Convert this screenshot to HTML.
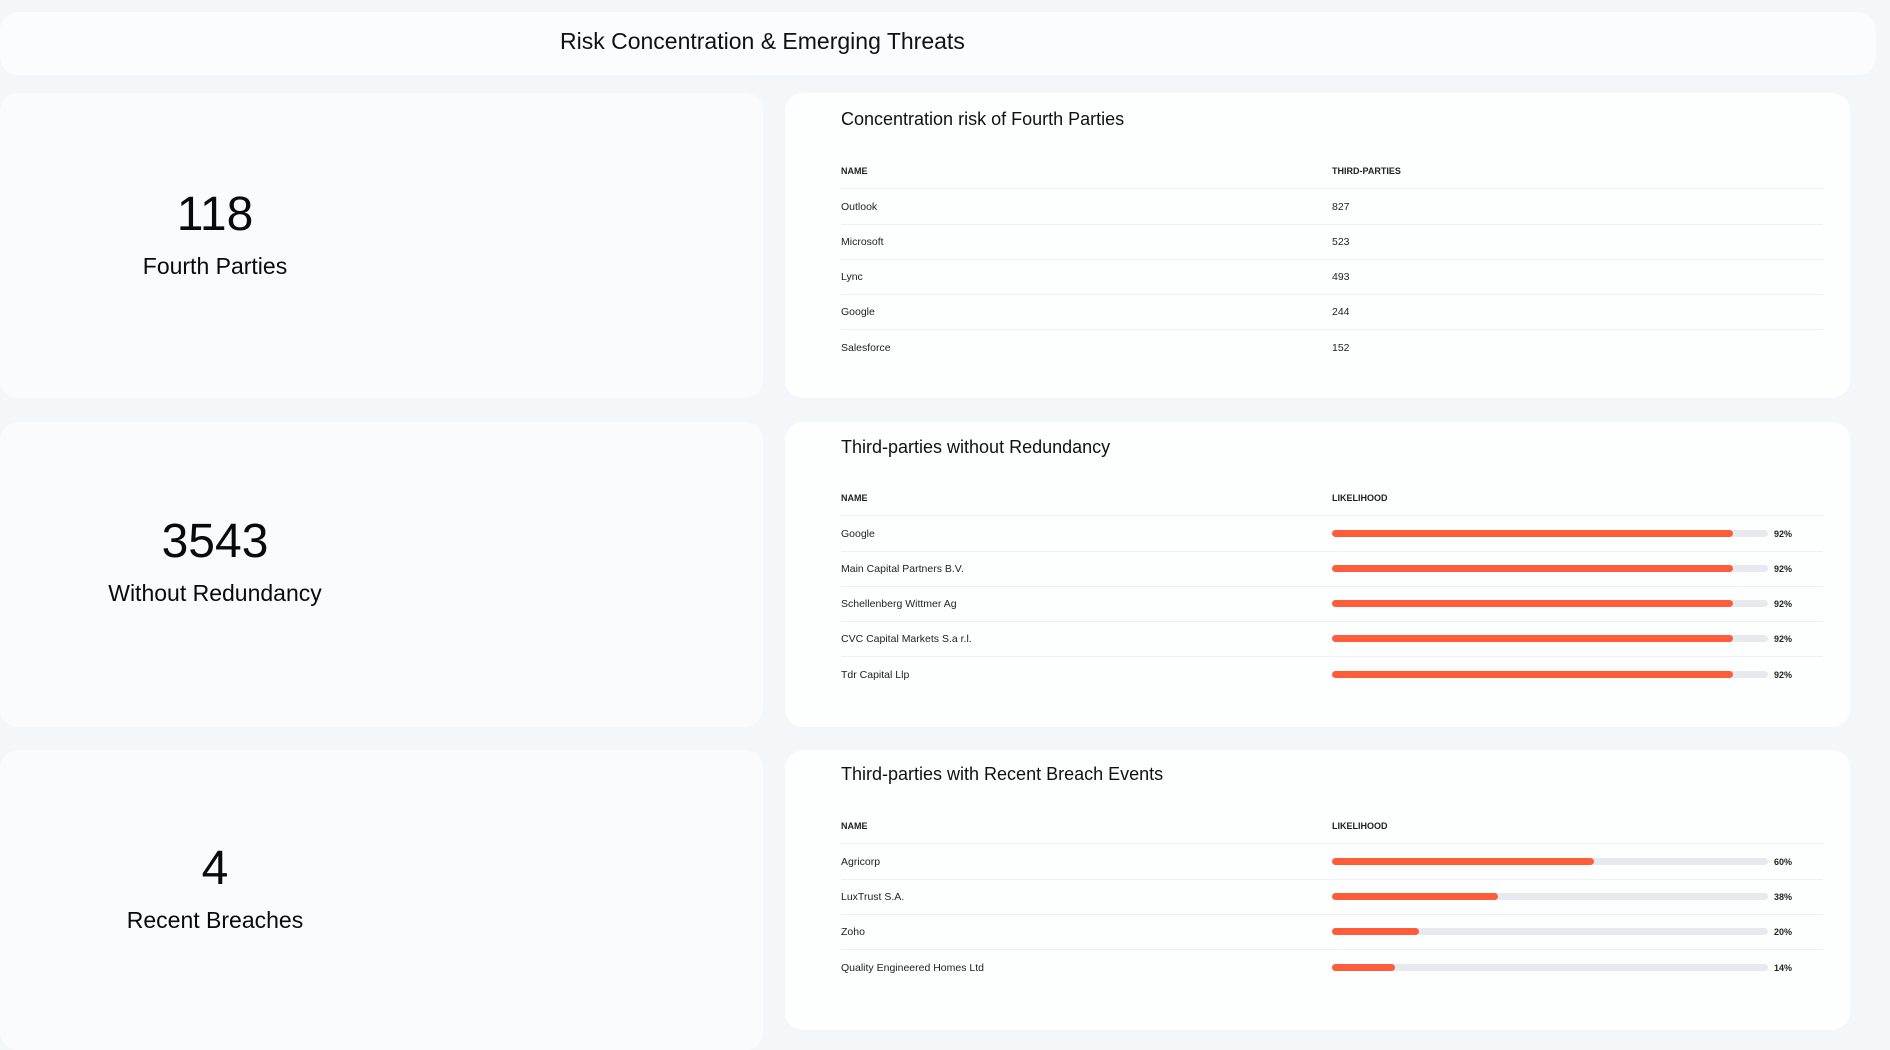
<!DOCTYPE html>
<html><head><meta charset="utf-8"><style>
*{margin:0;padding:0;box-sizing:border-box}
body{width:1890px;height:1040px;background:#f4f7f9;font-family:"Liberation Sans",sans-serif;color:#111;position:relative;overflow:hidden}
.a{position:absolute}
.card{position:absolute;border-radius:18px}
.l{background:#f9fbfc}
.r{background:#fdfefe}
.num{position:absolute;left:0;width:430px;text-align:center;font-size:48px;font-weight:500;color:#0a0a0a}
.lab{position:absolute;left:0;width:430px;text-align:center;font-size:23px;color:#0a0a0a}
.t{position:absolute;left:841px;font-size:18px;color:#111}
.h{position:absolute;font-size:9px;font-weight:bold;color:#222}
.c{position:absolute;font-size:10.5px;color:#222}
.sep{position:absolute;left:841px;width:982px;height:1px;background:#eef1f4}
.tr{position:absolute;left:1332px;width:436px;height:7px;background:#e6e9ee;border-radius:4px}
.f{position:absolute;left:0;top:0;height:7px;background:#ff5c3a;border-radius:4px}
.p{position:absolute;left:1774px;font-size:9px;font-weight:bold;color:#222}
</style></head><body>
<div class="card" style="left:0;top:12px;width:1876px;height:63px;background:#fafcfd"></div>
<div class="a" style="left:560px;top:28px;font-size:23px;color:#111">Risk Concentration &amp; Emerging Threats</div>

<div class="card l" style="left:0;top:93px;width:763px;height:305px"></div>
<div class="card l" style="left:0;top:422px;width:763px;height:305px"></div>
<div class="card l" style="left:0;top:750px;width:763px;height:300px"></div>
<div class="card r" style="left:785px;top:93px;width:1065px;height:305px"></div>
<div class="card r" style="left:785px;top:422px;width:1065px;height:305px"></div>
<div class="card r" style="left:785px;top:750px;width:1065px;height:280px"></div>

<div class="num" style="top:187px">118</div>
<div class="lab" style="top:253px">Fourth Parties</div>
<div class="num" style="top:514px">3543</div>
<div class="lab" style="top:580px">Without Redundancy</div>
<div class="num" style="top:841px">4</div>
<div class="lab" style="top:907px">Recent Breaches</div>

<!-- card 1 -->
<div class="t" style="top:109px">Concentration risk of Fourth Parties</div>
<div class="h" style="left:841px;top:166px">NAME</div><div class="h" style="left:1332px;top:166px">THIRD-PARTIES</div>
<div class="sep" style="top:188px"></div>
<div class="c" style="left:841px;top:201px">Outlook</div><div class="c" style="left:1332px;top:201px">827</div>
<div class="sep" style="top:224px"></div>
<div class="c" style="left:841px;top:236px">Microsoft</div><div class="c" style="left:1332px;top:236px">523</div>
<div class="sep" style="top:259px"></div>
<div class="c" style="left:841px;top:271px">Lync</div><div class="c" style="left:1332px;top:271px">493</div>
<div class="sep" style="top:294px"></div>
<div class="c" style="left:841px;top:306px">Google</div><div class="c" style="left:1332px;top:306px">244</div>
<div class="sep" style="top:329px"></div>
<div class="c" style="left:841px;top:342px">Salesforce</div><div class="c" style="left:1332px;top:342px">152</div>

<!-- card 2 -->
<div class="t" style="top:437px">Third-parties without Redundancy</div>
<div class="h" style="left:841px;top:493px">NAME</div><div class="h" style="left:1332px;top:493px">LIKELIHOOD</div>
<div class="sep" style="top:515px"></div>
<div class="c" style="left:841px;top:528px">Google</div><div class="tr" style="top:530px"><div class="f" style="width:92%"></div></div><div class="p" style="top:529px">92%</div>
<div class="sep" style="top:551px"></div>
<div class="c" style="left:841px;top:563px">Main Capital Partners B.V.</div><div class="tr" style="top:565px"><div class="f" style="width:92%"></div></div><div class="p" style="top:564px">92%</div>
<div class="sep" style="top:586px"></div>
<div class="c" style="left:841px;top:598px">Schellenberg Wittmer Ag</div><div class="tr" style="top:600px"><div class="f" style="width:92%"></div></div><div class="p" style="top:599px">92%</div>
<div class="sep" style="top:621px"></div>
<div class="c" style="left:841px;top:633px">CVC Capital Markets S.a r.l.</div><div class="tr" style="top:635px"><div class="f" style="width:92%"></div></div><div class="p" style="top:634px">92%</div>
<div class="sep" style="top:656px"></div>
<div class="c" style="left:841px;top:669px">Tdr Capital Llp</div><div class="tr" style="top:671px"><div class="f" style="width:92%"></div></div><div class="p" style="top:670px">92%</div>

<!-- card 3 -->
<div class="t" style="top:764px">Third-parties with Recent Breach Events</div>
<div class="h" style="left:841px;top:821px">NAME</div><div class="h" style="left:1332px;top:821px">LIKELIHOOD</div>
<div class="sep" style="top:843px"></div>
<div class="c" style="left:841px;top:856px">Agricorp</div><div class="tr" style="top:858px"><div class="f" style="width:60%"></div></div><div class="p" style="top:857px">60%</div>
<div class="sep" style="top:879px"></div>
<div class="c" style="left:841px;top:891px">LuxTrust S.A.</div><div class="tr" style="top:893px"><div class="f" style="width:38%"></div></div><div class="p" style="top:892px">38%</div>
<div class="sep" style="top:914px"></div>
<div class="c" style="left:841px;top:926px">Zoho</div><div class="tr" style="top:928px"><div class="f" style="width:20%"></div></div><div class="p" style="top:927px">20%</div>
<div class="sep" style="top:949px"></div>
<div class="c" style="left:841px;top:962px">Quality Engineered Homes Ltd</div><div class="tr" style="top:964px"><div class="f" style="width:14.5%"></div></div><div class="p" style="top:963px">14%</div>
</body></html>
